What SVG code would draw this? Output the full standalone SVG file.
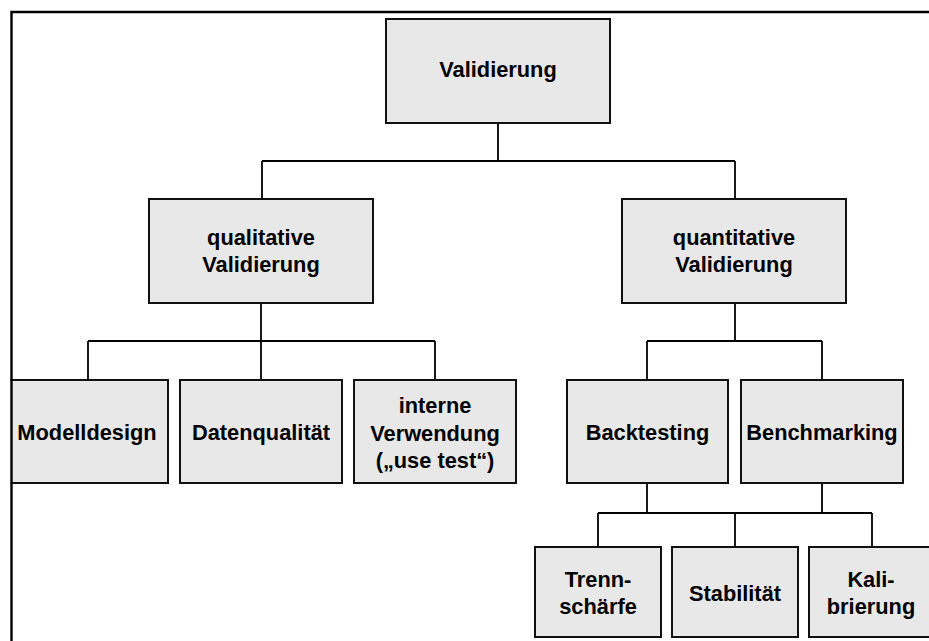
<svg xmlns="http://www.w3.org/2000/svg" width="929" height="641" viewBox="0 0 929 641">
  <style>
    .box { fill: #e8e8e8; stroke: #111; stroke-width: 2; }
    .lbl { font-family: "Liberation Sans", Arial, sans-serif; font-weight: bold; font-size: 21.8px; fill: #000; text-anchor: middle; }
    .conn { fill: none; stroke: #000; stroke-width: 1.8; }
    .frame { fill: none; stroke: #000; stroke-width: 2.4; }
  </style>
  <rect x="0" y="0" width="929" height="641" fill="#fff"/>

  <!-- connectors -->
  <g id="connectors" class="conn">
    <path d="M498 123 V161 M262 161 H735 M262 161 V199 M735 161 V199"/>
    <path d="M261 303 V341 M88 341 H435 M88 341 V380 M261 341 V380 M435 341 V380"/>
    <path d="M735 303 V341 M647 341 H822 M647 341 V380 M822 341 V380"/>
    <path d="M647 483 V513 M822 483 V513 M598 513 H872 M598 513 V547 M735 513 V547 M872 513 V547"/>
  </g>

  <!-- level 0 -->
  <g id="validierung">
    <rect class="box" x="386" y="19" width="224" height="104"/>
    <text class="lbl" x="498" y="77">Validierung</text>
  </g>

  <!-- level 1 -->
  <g id="qualitativ">
    <rect class="box" x="149" y="199" width="224" height="104"/>
    <text class="lbl" x="261" y="245">qualitative</text>
    <text class="lbl" x="261" y="272">Validierung</text>
  </g>
  <g id="quantitativ">
    <rect class="box" x="622" y="199" width="224" height="104"/>
    <text class="lbl" x="734" y="245">quantitative</text>
    <text class="lbl" x="734" y="272">Validierung</text>
  </g>

  <!-- level 2 -->
  <g id="modelldesign">
    <rect class="box" x="6" y="380" width="162" height="103"/>
    <text class="lbl" x="87" y="440">Modelldesign</text>
  </g>
  <g id="datenqualitaet">
    <rect class="box" x="180" y="380" width="162" height="103"/>
    <text class="lbl" x="261" y="440">Datenqualität</text>
  </g>
  <g id="interne-verwendung">
    <rect class="box" x="354" y="380" width="162" height="103"/>
    <text class="lbl" x="435" y="413">interne</text>
    <text class="lbl" x="435" y="441">Verwendung</text>
    <text class="lbl" x="435" y="468">(„use test“)</text>
  </g>
  <g id="backtesting">
    <rect class="box" x="567" y="380" width="161" height="103"/>
    <text class="lbl" x="647.5" y="440">Backtesting</text>
  </g>
  <g id="benchmarking">
    <rect class="box" x="741" y="380" width="162" height="103"/>
    <text class="lbl" x="822" y="440">Benchmarking</text>
  </g>

  <!-- level 3 -->
  <g id="trennschaerfe">
    <rect class="box" x="535" y="547" width="126" height="90"/>
    <text class="lbl" x="598" y="587">Trenn-</text>
    <text class="lbl" x="598" y="614">schärfe</text>
  </g>
  <g id="stabilitaet">
    <rect class="box" x="672" y="547" width="126" height="90"/>
    <text class="lbl" x="735" y="601">Stabilität</text>
  </g>
  <g id="kalibrierung">
    <rect class="box" x="809" y="547" width="126" height="90"/>
    <text class="lbl" x="871" y="587">Kali-</text>
    <text class="lbl" x="871" y="614">brierung</text>
  </g>

  <!-- outer frame: top and left edges only -->
  <rect x="0" y="0" width="10.5" height="641" fill="#fff"/>
  <path class="frame" d="M11.5 641 V12 H929"/>
</svg>
